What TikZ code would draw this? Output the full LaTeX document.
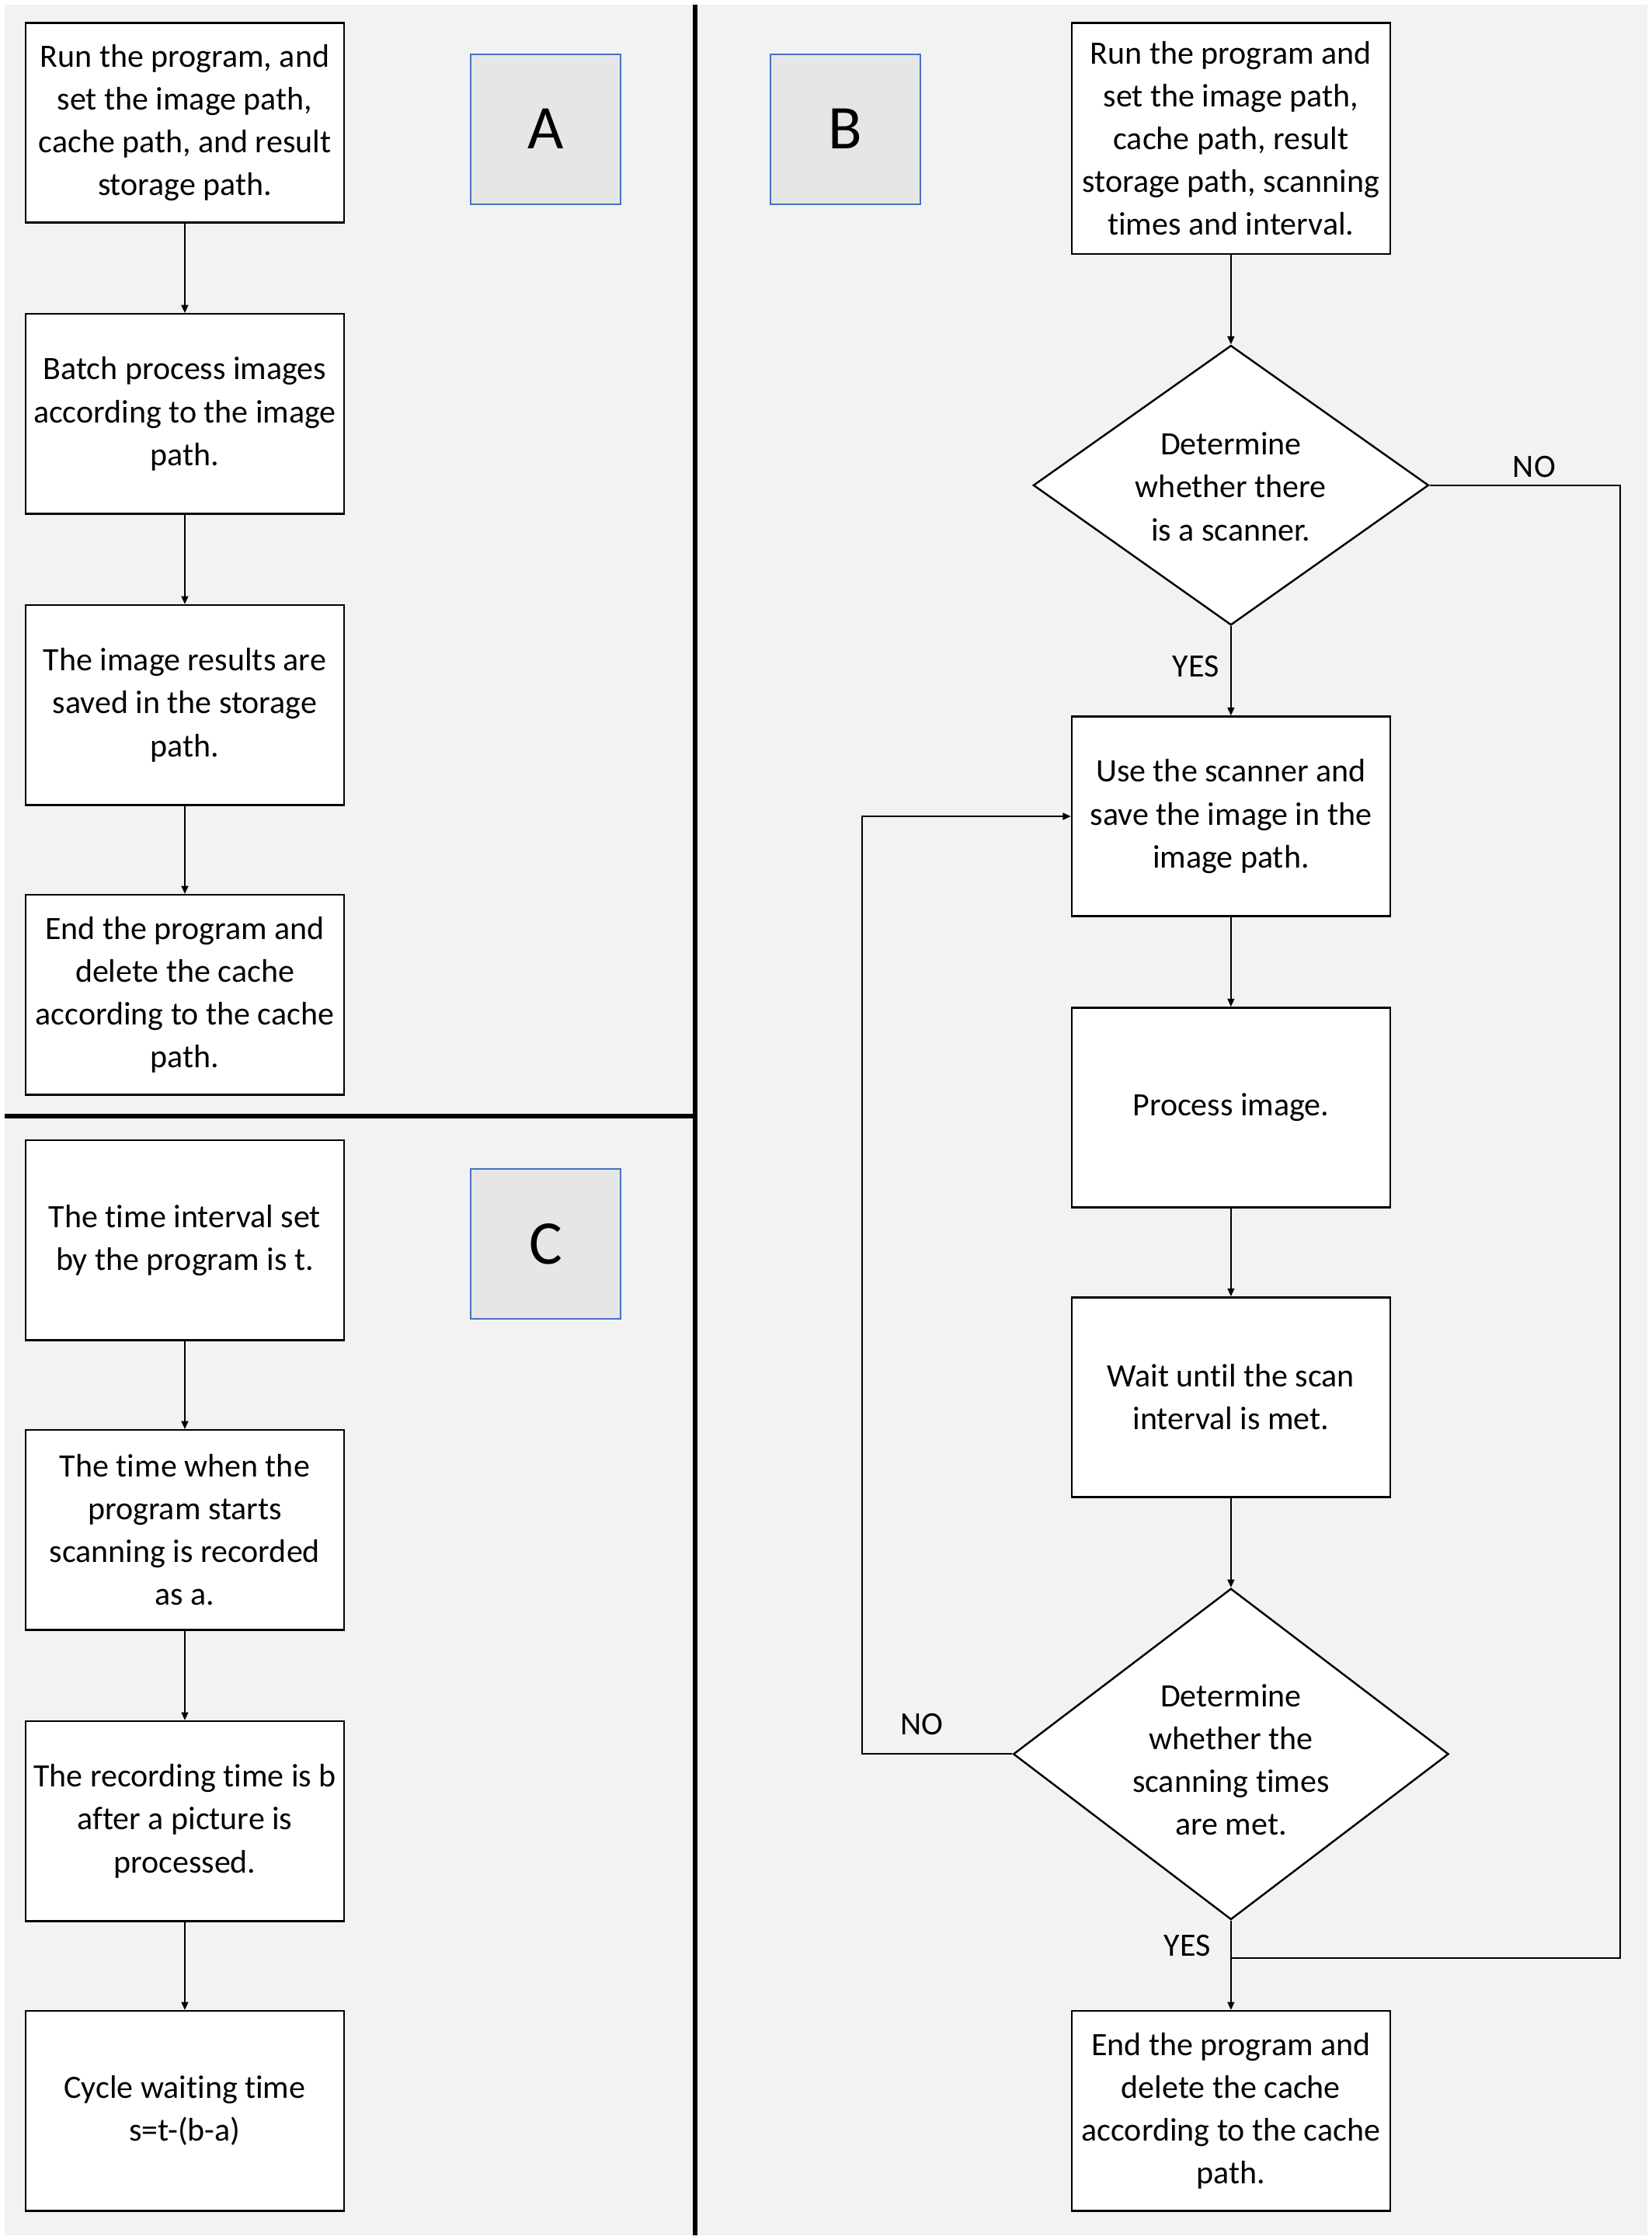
\documentclass[tikz,border=0pt]{standalone}
\usepackage{fontspec}
\setmainfont{Carlito}[RawFeature={-liga;-clig;-dlig}]
\usetikzlibrary{arrows.meta,shapes.geometric}
\definecolor{bgray}{HTML}{F2F2F2}
\definecolor{taggray}{HTML}{E7E6E6}
\definecolor{tagblue}{HTML}{4472C4}
\newcommand\mybody{\fontsize{32.5}{42.7}\selectfont}
\begin{document}
\begin{tikzpicture}[x=0.5mm,y=-0.5mm,
  box/.style={draw=black, line width=1.9pt, fill=white, minimum width=111.5mm, minimum height=70mm, align=center, inner sep=0pt, font=\mybody},
  dia/.style={draw=black, line width=1.9pt, fill=white, diamond, inner sep=0pt},
  txt/.style={align=center, inner sep=0pt, font=\mybody},
  tag/.style={draw=tagblue, line width=1.4pt, fill=taggray, minimum width=52.5mm, minimum height=52.5mm, inner sep=0pt, font=\fontsize{62}{70}\selectfont},
  lbl/.style={font=\mybody, inner sep=0pt},
  conn/.style={draw=black, line width=1.5pt},
  arr/.style={conn, -{Triangle[length=2.8mm,width=2.4mm]}},
  divider/.style={draw=black, line width=5.2pt}]
\useasboundingbox (0,0) rectangle (1157,1569.5);
\fill[white] (0,0) rectangle (1157,1569.5);
\fill[bgray] (3,3) rectangle (1154,1566);
\draw[divider] (487,3) -- (487,1566);
\draw[divider] (3,782) -- (487,782);

% Panel A
\node[box] (a1) at (129.5,86) {Run the program, and\\set the image path,\\cache path, and result\\storage path.};
\node[box] (a2) at (129.5,290) {Batch process images\\according to the image\\path.};
\node[box] (a3) at (129.5,494) {The image results are\\saved in the storage\\path.};
\node[box] (a4) at (129.5,697) {End the program and\\delete the cache\\according to the cache\\path.};
\node[tag] (ta) at (382.5,90.5) {A};
\draw[arr] (a1) -- (a2);
\draw[arr] (a2) -- (a3);
\draw[arr] (a3) -- (a4);

% Panel C
\node[box] (c1) at (129.5,869) {The time interval set\\by the program is t.};
\node[box] (c2) at (129.5,1072) {The time when the\\program starts\\scanning is recorded\\as a.};
\node[box] (c3) at (129.5,1276) {The recording time is b\\after a picture is\\processed.};
\node[box] (c4) at (129.5,1479) {Cycle waiting time\\s=t-(b-a)};
\node[tag] (tc) at (382.5,871.5) {C};
\draw[arr] (c1) -- (c2);
\draw[arr] (c2) -- (c3);
\draw[arr] (c3) -- (c4);

% Panel B
\node[tag] (tb) at (592.5,90.5) {B};
\node[box, minimum height=81mm] (b1) at (862.5,97) {Run the program and\\set the image path,\\cache path, result\\storage path, scanning\\times and interval.};
\node[dia, minimum width=138.5mm, minimum height=98mm] (d1) at (862.5,340) {};
\node[txt] (d1t) at (862.5,341) {Determine\\whether there\\is a scanner.};
\node[box] (b2) at (862.5,572) {Use the scanner and\\save the image in the\\image path.};
\node[box] (b3) at (862.5,776) {Process image.};
\node[box] (b4) at (862.5,979) {Wait until the scan\\interval is met.};
\node[dia, minimum width=152.5mm, minimum height=116mm] (d2) at (862.5,1229) {};
\node[txt] (d2t) at (862.5,1233) {Determine\\whether the\\scanning times\\are met.};
\node[box] (b5) at (862.5,1479) {End the program and\\delete the cache\\according to the cache\\path.};

\coordinate (rt) at (1135,1372);
\coordinate (jn) at (862.5,1372);
\coordinate (lp) at (604,1229);

\draw[arr] (b1) -- (d1);
\draw[arr] (d1) -- (b2);
\node[lbl] (yes1) at (838,467) {YES};
\draw[arr] (b2) -- (b3);
\draw[arr] (b3) -- (b4);
\draw[arr] (b4) -- (d2);
\draw[arr] (d2) -- (b5);
\node[lbl] (yes2) at (832,1363) {YES};
\draw[conn] (d1.east) -| (rt) -- (jn);
\node[lbl] (no1) at (1075,327) {NO};
\draw[arr] (d2.west) -- (lp) |- (b2.west);
\node[lbl] (no2) at (646,1208) {NO};
\end{tikzpicture}
\end{document}
